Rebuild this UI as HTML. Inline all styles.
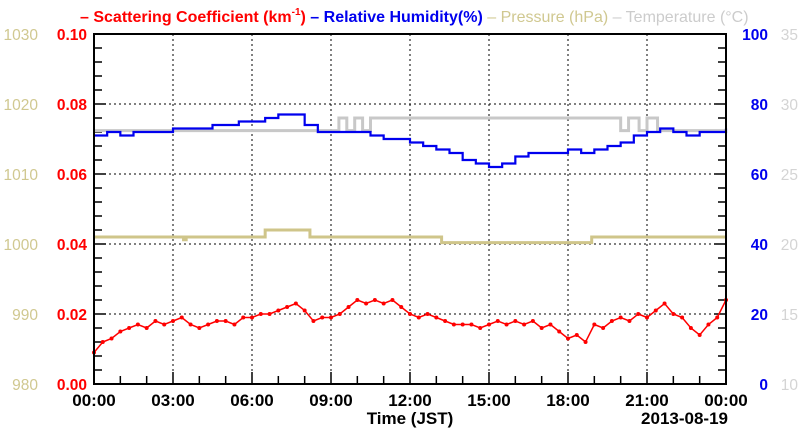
<!DOCTYPE html><html><head><meta charset="utf-8"><style>body{margin:0;background:#fff}svg{font-family:"Liberation Sans",sans-serif;font-weight:bold}</style></head><body>
<svg id="c" width="800" height="434"></svg>
<script>
const hoursTicks=["00:00","03:00","06:00","09:00","12:00","15:00","18:00","21:00","00:00"];
const scatter=[9,12,13,15,16,17,16,18,17,18,19,17,16,17,18,18,17,19,19,20,20,21,22,23,21,18,19,19,20,22,24,23,24,23,24,22,20,19,20,19,18,17,17,17,16,17,18,17,18,17,18,16,17,15,13,14,12,17,16,18,19,18,20,19,21,23,20,19,16,14,17,19,24];
const rh=[71,72,71,72,72,72,73,73,73,74,74,75,75,76,77,77,74,72,72,72,72,71,70,70,69,68,67,66,64,63,62,63,65,66,66,66,67,66,67,68,69,71,72,73,72,71,72,72,73];
const presT=[0,3.4,3.5,6.5,8.2,13.2,18.9,24];
const presV=[1001,1000.6,1001,1002,1001,1000.2,1001,1001];
const tempT=[0,9.3,9.6,9.9,10.2,10.5,20,20.3,20.7,21,21.4,21.7,24];
const tempV=[28.1,29,28.1,29,28.1,29,28.1,29,28.1,29,28.1,28.1,28.1];
const sl=[0,0.02,0.04,0.06,0.08,0.10],pl=[980,990,1000,1010,1020,1030],rl=[0,20,40,60,80,100],tl=[10,15,20,25,30,35];
const L=94,R=726,T=34,B=384,W=R-L,H=B-T;
const X=h=>L+h/24*W, Ys=v=>B-v/0.1*H, Yp=v=>B-(v-980)/50*H, Yr=v=>B-v/100*H, Yt=v=>B-(v-10)/25*H;
const s=document.getElementById('c');const NS="http://www.w3.org/2000/svg";
function el(t,a,txt){const e=document.createElementNS(NS,t);for(const k in a)e.setAttribute(k,a[k]);if(txt!=null)e.textContent=txt;s.appendChild(e);return e;}
for(let i=1;i<8;i++){const g=el('line',{x1:X(i*3),x2:X(i*3),y1:T,y2:B,stroke:'#000','stroke-dasharray':'2,3'});}
for(let i=1;i<5;i++){const g=el('line',{x1:L,x2:R,y1:Ys(sl[i]),y2:Ys(sl[i]),stroke:'#000','stroke-dasharray':'2,3'});}
for(let i=0;i<=25;i++){const y=B-i*H/25,len=i%5?8:12;el('line',{x1:L,x2:L+len,y1:y,y2:y,stroke:'#000','stroke-width':1.5});el('line',{x1:R,x2:R-len,y1:y,y2:y,stroke:'#000','stroke-width':1.5});}
for(let i=0;i<=24;i++){const x=X(i),len=i%3?8:12;el('line',{x1:x,x2:x,y1:B,y2:B-len,stroke:'#000','stroke-width':1.5});}
function step(ts,vs,fy,col,name){let d='';for(let i=0;i<ts.length;i++){d+=(i?'L':'M')+X(ts[i])+','+fy(vs[i]);if(i<ts.length-1)d+='L'+X(ts[i+1])+','+fy(vs[i]);}const p=el('path',{d,fill:'none',stroke:col,'stroke-width':3});}
step(presT,presV,Yp,'#cfc58a','pressure-line');
step(tempT,tempV,Yt,'#c8c8c8','temperature-line');
{const ts=rh.map((v,i)=>i*0.5);let d='';rh.forEach((v,i)=>{d+=(i?'L':'M')+X(ts[i])+','+Yr(v);if(i<rh.length-1)d+='L'+X(ts[i]+0.5)+','+Yr(v);});const p=el('path',{d,fill:'none',stroke:'#0000ee','stroke-width':2.2});}
{let d='';scatter.forEach((v,i)=>{d+=(i?'L':'M')+X(i/3)+','+Ys(v/1000);});const p=el('path',{d,fill:'none',stroke:'#ff0000','stroke-width':1.5});
scatter.forEach((v,i)=>{const c=el('circle',{cx:X(i/3),cy:Ys(v/1000),r:2,fill:'#f00'});});}
el('rect',{x:L,y:T,width:W,height:H,fill:'none',stroke:'#000','stroke-width':2});
for(let i=0;i<6;i++){const y=Ys(sl[i])+6;
let t=el('text',{x:87,y,'text-anchor':'end',fill:'#f00','font-size':15.5},sl[i].toFixed(2));
t=el('text',{x:38,y,'text-anchor':'end',fill:'#d0c890','font-size':15.5,'font-weight':'normal'},pl[i]);
t=el('text',{x:768,y,'text-anchor':'end',fill:'#0000ee','font-size':15.5},rl[i]);
t=el('text',{x:798,y,'text-anchor':'end',fill:'#d4d4d4','font-size':15.5,'font-weight':'normal'},tl[i]);}
hoursTicks.forEach((h,i)=>{const t=el('text',{x:X(i*3),y:406,'text-anchor':'middle','font-size':17},h);});
let t=el('text',{x:410,y:424,'text-anchor':'middle','font-size':17},'Time (JST)');
t=el('text',{x:728,y:424,'text-anchor':'end','font-size':17},'2013-08-19');
t=el('text',{x:80,y:22,'font-size':16});
t.innerHTML='<tspan fill="#f00">– Scattering Coefficient (km<tspan font-size="10" dy="-7">-1</tspan><tspan dy="7">) </tspan></tspan><tspan fill="#00e">– Relative Humidity(%) </tspan><tspan fill="#d0c890" font-weight="normal">– Pressure (hPa) </tspan><tspan fill="#ccc" font-weight="normal">– Temperature (°C)</tspan>';
</script></body></html>
